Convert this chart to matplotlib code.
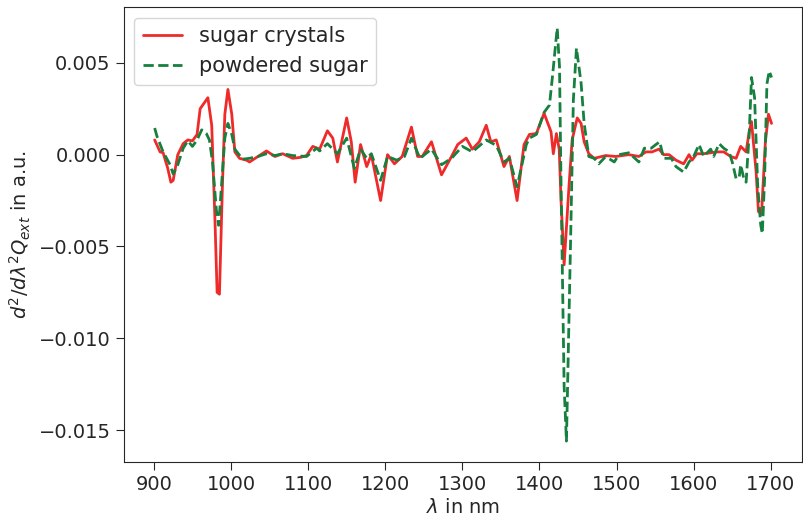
#!/usr/bin/env python3

import numpy as np
import matplotlib
matplotlib.use("Agg")
import matplotlib.pyplot as plt
import seaborn as sns

# second derivative of extinction, values read in units of 1e-3
wl_sugar = [901, 908, 912, 918, 922, 925, 931, 938, 944, 950, 956, 960, 970, 975, 979,
            982, 985, 989, 992, 996, 1001, 1005, 1011, 1020, 1024, 1035, 1046, 1057, 1067,
            1080, 1090, 1098, 1106, 1115, 1125, 1132, 1138, 1150, 1156, 1161, 1168, 1176,
            1182, 1194, 1203, 1212, 1222, 1234, 1242, 1248, 1260, 1273, 1286, 1294, 1305,
            1313, 1322, 1331, 1337, 1344, 1354, 1361, 1371, 1380, 1387, 1396, 1406, 1415,
            1418, 1422, 1425.6, 1428, 1432, 1438.5, 1442.4, 1449, 1454, 1458, 1464, 1471,
            1486, 1499, 1516, 1529, 1538, 1546, 1555, 1561, 1568, 1577, 1587, 1594, 1598,
            1604, 1613, 1622, 1630, 1639, 1648, 1655, 1661, 1668, 1672, 1675, 1681, 1684,
            1688, 1693, 1697, 1701]
val_sugar = [0.8, 0.15, 0.1, -0.75, -1.5, -1.4, 0.0, 0.6, 0.8, 0.75, 1.1, 2.5, 3.1, 1.6, -3.3,
             -7.5, -7.6, -1.5, 2.2, 3.55, 2.2, 0.15, -0.2, -0.3, -0.4, -0.1, 0.2, -0.1, 0.05,
             -0.2, -0.15, -0.05, 0.45, 0.3, 1.3, 0.9, -0.4, 2.0, 0.7, -1.5, 0.55, -0.65,
             0.0, -2.5, 0.0, -0.5, -0.1, 1.5, -0.1, -0.1, 0.7, -1.1, -0.1, 0.55, 0.9,
             0.3, 0.7, 1.6, 0.7, 0.8, -0.65, -0.1, -2.5, 0.55, 1.1, 1.15, 2.25, 1.25,
             0.05, 1.15, 0.3, -2.5, -6.0, -1.6, 0.8, 2.0, 1.7, 0.7, 0.05, -0.2,
             -0.05, -0.1, 0.0, -0.1, 0.15, 0.15, 0.3, 0.0, 0.0, -0.3, -0.5, 0.0, -0.3,
             0.05, 0.05, 0.1, 0.15, 0.15, -0.1, -0.2, 0.45, 0.15, 1.25, 1.8, -0.95, -3.1,
             -3.25, 0.7, 2.2, 1.7]

wl_powder = [901, 904, 912, 921, 925, 931, 938, 944, 950, 956, 962, 968, 972, 976, 981,
             984, 988, 992, 996, 1001, 1005, 1015, 1024, 1035, 1046, 1057, 1067, 1080,
             1098, 1111, 1115, 1125, 1138, 1150, 1160, 1168, 1176, 1182, 1194, 1203, 1215,
             1225, 1234, 1245, 1260, 1273, 1286, 1300, 1313, 1331, 1344, 1354, 1361, 1371,
             1383, 1387, 1396, 1406, 1413, 1417, 1423, 1426, 1428, 1430, 1432, 1435, 1437,
             1441, 1444, 1448, 1454, 1458, 1464, 1471, 1477, 1486, 1497, 1503, 1516, 1529,
             1536, 1545, 1551, 1556, 1561, 1571, 1577, 1587, 1594, 1600, 1607, 1613, 1622,
             1626, 1633, 1639, 1646, 1650, 1655, 1659, 1661, 1665, 1668, 1672, 1675, 1679,
             1683, 1687, 1689, 1692, 1695, 1698, 1701]
val_powder = [1.45, 1.0, 0.15, -0.55, -1.05, -0.55, 0.35, 0.75, 0.45, 0.8, 1.35, 1.15, 0.8, -0.4, -3.0,
              -3.85, -1.5, 0.9, 1.7, 1.1, 0.3, -0.25, -0.2, -0.1, 0.05, -0.05, 0.05, -0.05,
              -0.1, 0.35, 0.2, 0.6, 0.05, 0.9, -0.75, 0.3, -0.2, 0.05, -1.4, -0.1, -0.3,
              -0.1, 0.9, -0.2, 0.3, -0.55, -0.2, 0.45, 0.15, 0.8, 0.5, -0.4, -0.2, -1.75,
              0.55, 0.9, 1.1, 2.3, 2.7, 4.3, 6.9, 4.8, -1.6, -7.1, -12.6, -15.6, -11.6,
              -3.4, 3.0, 5.8, 3.9, 1.7, -0.1, -0.2, -0.5, -0.1, -0.4, 0.0, 0.1, -0.4,
              0.35, 0.35, 0.55, 0.7, -0.2, -0.2, -0.65, -0.95, -0.4, -0.1, 0.55, -0.1, 0.3,
              -0.1, 0.6, 0.35, 0.15, -0.4, -1.3, -1.25, -0.55, -1.3, -1.5, 1.1, 4.2, 3.1,
              -1.65, -3.85, -4.3, -1.3, 3.85, 4.55, 4.2]

labels = ["sugar crystals", "powdered sugar"]


def main():
    sns.set_style("ticks")
    plt.rcParams['font.family'] = ['DejaVu Sans']
    plt.rcParams['font.size'] = 14

    fig, ax = plt.subplots(figsize=(8.04, 5.2), dpi=100)
    fig.subplots_adjust(left=0.154, right=0.998, top=0.986, bottom=0.112)

    ax.plot(wl_sugar, np.array(val_sugar) * 1e-3, color="#ee2a2a", lw=2.0, label=labels[0])
    ax.plot(wl_powder, np.array(val_powder) * 1e-3, color="#16803f", lw=2.0, ls="--",
            label=labels[1])

    ax.set_xticks(np.arange(900, 1701, 100))
    ax.set_yticks([0.005, 0.0, -0.005, -0.010, -0.015])
    ax.tick_params(labelsize=14, length=6)
    ax.set_xlabel(r"$\lambda$ in nm", fontsize=14, labelpad=3)
    ax.set_ylabel(r"$d^2/d\lambda^2Q_{ext}$ in a.u.", fontsize=14)
    ax.legend(loc="upper left", fontsize=15, handlelength=1.9)

    fig.savefig("out.png")


if __name__ == "__main__":
    main()
